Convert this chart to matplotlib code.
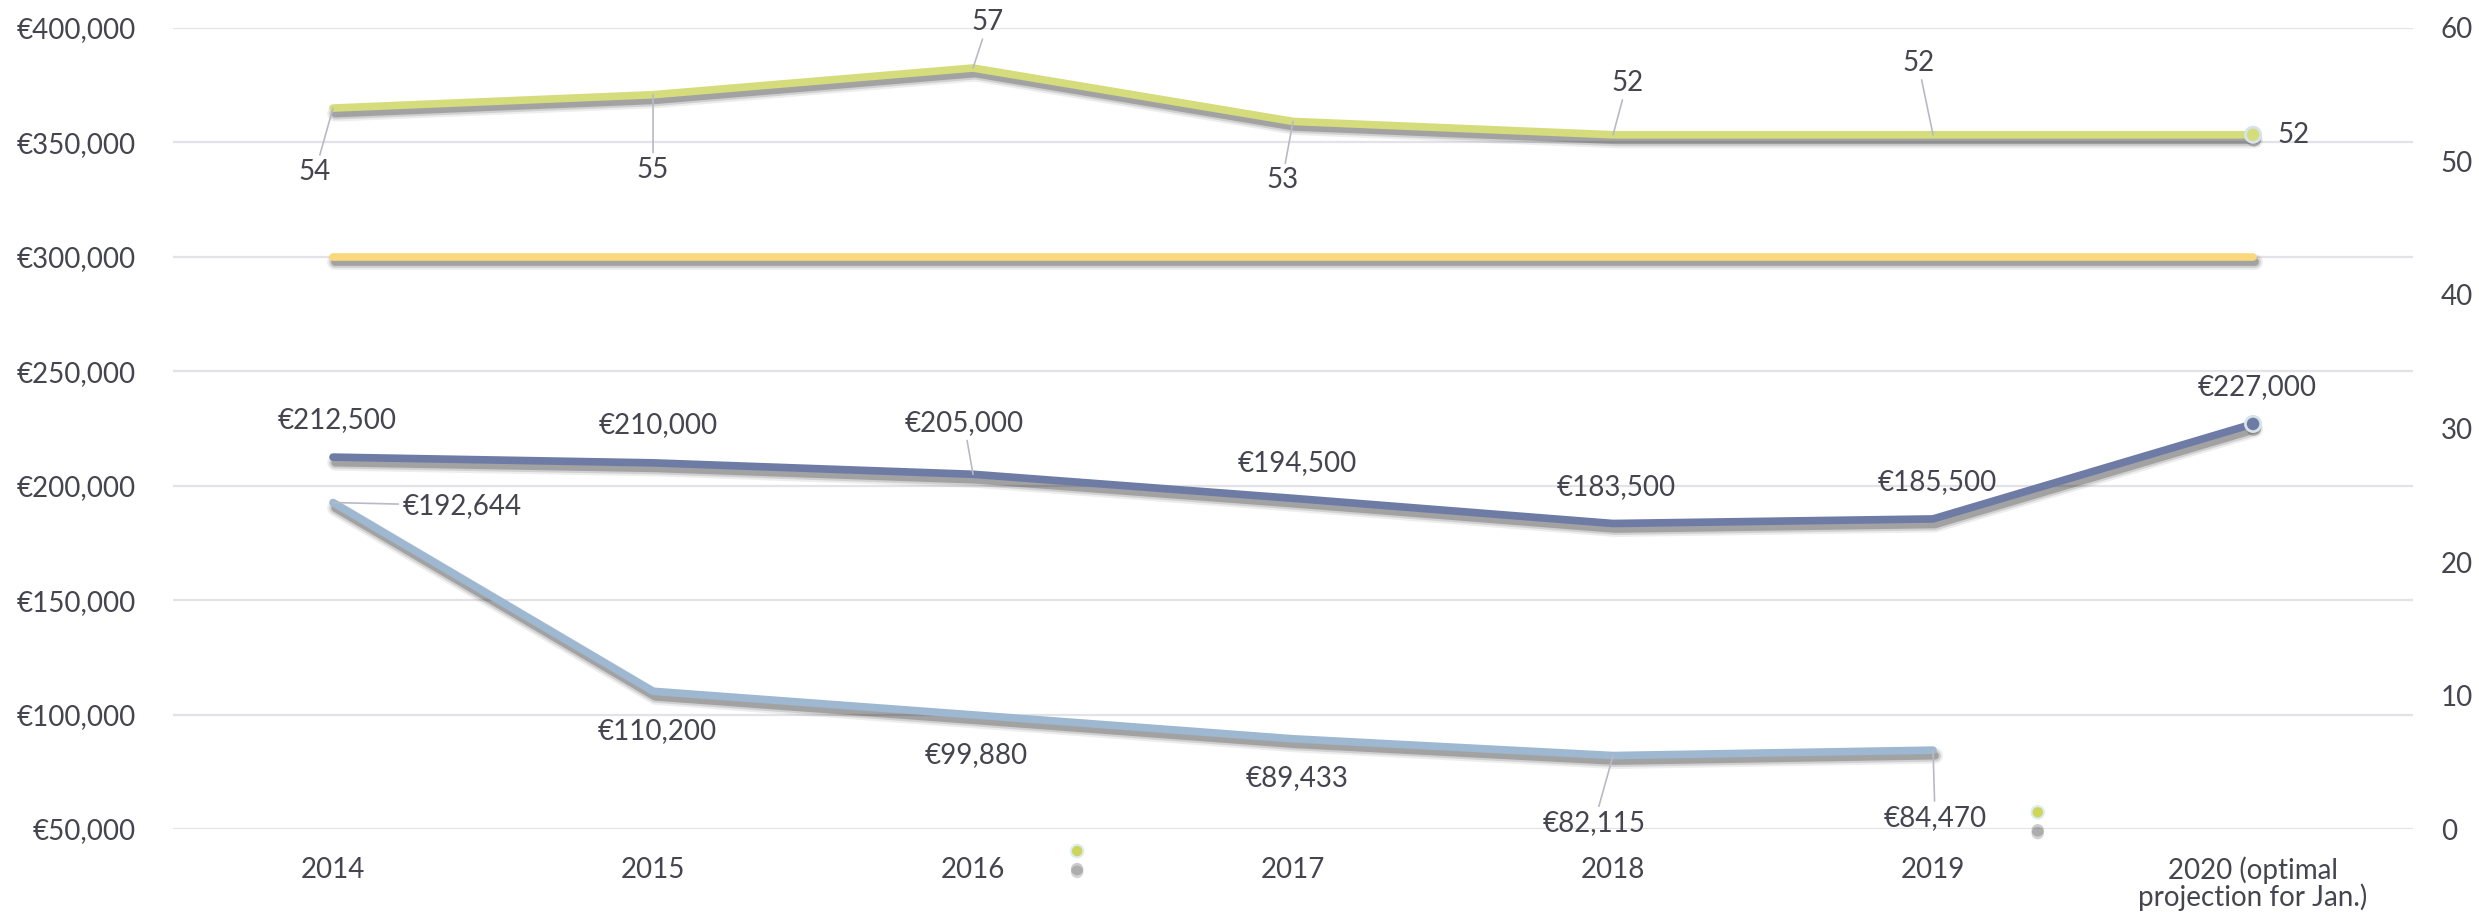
import matplotlib.pyplot as plt
import matplotlib.patheffects as pe
from matplotlib.lines import Line2D
from matplotlib.ticker import FuncFormatter

plt.rcParams['font.family'] = ['Lato', 'DejaVu Sans']

# data
years = ['2014', '2015', '2016', '2017', '2018', '2019', '2020 (optimal\nprojection for Jan.)']
count = [54, 55, 57, 53, 52, 52, 52]                       # right axis
target = [300000, 300000, 300000, 300000, 300000, 300000, 300000]
price = [212500, 210000, 205000, 194500, 183500, 185500, 227000]
actual = [192644, 110200, 99880, 89433, 82115, 84470]

# label offsets in pixels (dx, dy) and whether a leader line is drawn
count_off = [(-18, -64, 1), (0, -75, 1), (15, 46, 1), (-11, -59, 1), (14, 52, 1), (-15, 72, 1), (24, 0, 0)]
price_off = [(4, 37, 0), (5, 38, 0), (-9, 51, 1), (4, 35, 0), (3, 36, 0), (4, 37, 0), (4, 37, 0)]
actual_off = [(129, -3, 1), (4, -40, 0), (3, -40, 0), (4, -39, 0), (-19, -68, 1), (2, -68, 1)]

txt = '#45454f'
grid = '#e3e3e7'
lead = '#b9b9c6'
c_green = '#d4dc7c'
c_yellow = '#f9d97c'
c_dark = '#6e7ba4'
c_light = '#9db8d0'
fs = 20


def shadow(lw):
    return [pe.SimpleLineShadow(offset=(1.5, -4), shadow_color='k', alpha=0.07, linewidth=lw + 6),
            pe.SimpleLineShadow(offset=(1.5, -4), shadow_color='k', alpha=0.12, linewidth=lw + 3),
            pe.SimpleLineShadow(offset=(1.5, -4), shadow_color='k', alpha=0.22, linewidth=lw),
            pe.Normal()]


def dot_shadow(dy, a):
    return [pe.SimplePatchShadow(offset=(0.5, dy), shadow_rgbFace='#444', alpha=a),
            pe.Normal()]


def euro(v, pos=None):
    return '€{:,.0f}'.format(v)


fig = plt.figure(figsize=(24.79, 9.23), dpi=100)
ax = fig.add_axes([0.0698, 0.1018, 0.9036, 0.8679])
ax2 = ax.twinx()

x = list(range(len(years)))
lw = 5.5

ax.plot(x, target, color=c_yellow, lw=lw, solid_capstyle='round', path_effects=shadow(lw), zorder=3)
ax.plot(x[:len(actual)], actual, color=c_light, lw=lw, solid_capstyle='round', path_effects=shadow(lw), zorder=3)
ax.plot(x, price, color=c_dark, lw=lw, solid_capstyle='round', path_effects=shadow(lw), zorder=4)
ax.plot(x[-1:], price[-1:], 'o', ms=11, mfc=c_dark, mec='#d6e3e8', mew=2, zorder=5,
        path_effects=dot_shadow(-3, 0.3))
ax2.plot(x, count, color=c_green, lw=lw, solid_capstyle='round', path_effects=shadow(lw), zorder=3)
ax2.plot(x[-1:], count[-1:], 'o', ms=11, mfc=c_green, mec='#d6e3e8', mew=2, zorder=5,
         path_effects=dot_shadow(-3, 0.3))


def label(a, xs, ys, offs, fmt):
    for xi, yi, (dx, dy, ld) in zip(xs, ys, offs):
        ha = 'left' if (dy == 0 and dx > 0) else 'center'
        kw = {}
        if ld:
            kw['arrowprops'] = dict(arrowstyle='-', color=lead, lw=1.2, shrinkA=1, shrinkB=0)
        a.annotate(fmt(yi), (xi, yi), xytext=(dx, dy), textcoords='offset pixels',
                   ha=ha, va='center', fontsize=fs, color=txt, zorder=6, **kw)


label(ax2, x, count, count_off, lambda v: str(v))
label(ax, x, price, price_off, euro)
label(ax, x[:len(actual)], actual, actual_off, euro)

ax.set_xlim(-0.5, len(years) - 0.5)
ax.set_ylim(50000, 400000)
ax.set_yticks(range(50000, 400001, 50000))
ax.yaxis.set_major_formatter(FuncFormatter(euro))
ax2.set_ylim(0, 60)
ax2.set_yticks(range(0, 61, 10))
ax.set_xticks(x)
ax.set_xticklabels(years, linespacing=0.95)

ax.grid(axis='y', color=grid, lw=1.6)
ax.set_axisbelow(True)
for a in (ax, ax2):
    for s in a.spines.values():
        s.set_visible(False)
ax.tick_params(axis='y', length=0, pad=27, labelsize=fs, labelcolor=txt)
ax.tick_params(axis='x', length=0, pad=20, labelsize=fs, labelcolor=txt)
ax2.tick_params(axis='y', length=0, pad=20, labelsize=fs, labelcolor=txt)

# two stray legend markers that the original chart shows below the plot
for anchor in [(0.4345, 0.077), (0.822, 0.119)]:
    h = Line2D([], [], ls='', marker='o', ms=9, mfc='#cdd65a', mec='#dcecef', mew=1.5,
               path_effects=[pe.SimplePatchShadow(offset=(0, -15), shadow_rgbFace='#555', alpha=0.25),
                             pe.SimplePatchShadow(offset=(0, -13), shadow_rgbFace='#555', alpha=0.3),
                             pe.Normal()])
    fig.legend([h], [''], loc='center', bbox_to_anchor=anchor, frameon=False,
               handlelength=0.6, handletextpad=0, borderpad=0)

fig.savefig('out.png', dpi=100)
